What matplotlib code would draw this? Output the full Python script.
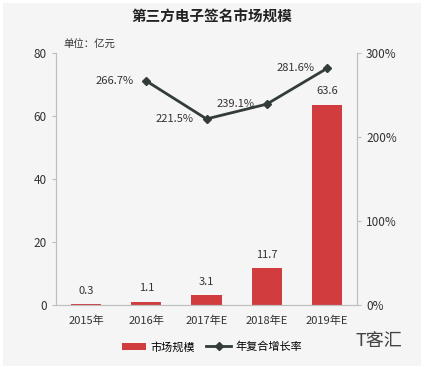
import numpy as np
import matplotlib.pyplot as plt
from matplotlib.patches import Rectangle

plt.rcParams['font.family'] = ['Noto Sans CJK SC', 'DejaVu Sans']

years = ['2015年', '2016年', '2017年E', '2018年E', '2019年E']
market = [0.3, 1.1, 3.1, 11.7, 63.6]
growth = [266.7, 221.5, 239.1, 281.6]  # 2016 - 2019E
growth_idx = [1, 2, 3, 4]

bar_color = '#d13c3e'
line_color = '#333b3b'
grid_gray = '#bfbfbf'

fig = plt.figure(figsize=(4.24, 3.69), dpi=100)
fig.patch.set_facecolor('white')
fig.patches.append(Rectangle((0.008, 0.008), 0.984, 0.984, transform=fig.transFigure,
                             facecolor='#f5f5f5', edgecolor='none', zorder=-10))

ax = fig.add_axes([56 / 424, 1 - 305 / 369, 301 / 424, 252 / 369])
ax.set_facecolor('none')
x = np.arange(len(years))
ax.bar(x, market, width=0.5, color=bar_color, label='市场规模', zorder=2)
for xi, v in zip(x, market):
    ax.annotate(f'{v}', (xi, v), xytext=(0, 6), textcoords='offset points',
                ha='center', va='bottom', fontsize=8, color='#333333')
ax.set_xlim(-0.5, 4.5)
ax.set_ylim(0, 80)
ax.set_yticks([0, 20, 40, 60, 80])
ax.set_xticks(x)
ax.set_xticklabels(years)
ax.spines['top'].set_visible(False)
for s in ['left', 'bottom', 'right']:
    ax.spines[s].set_color(grid_gray)
ax.tick_params(axis='y', colors=grid_gray, labelcolor='#333333', labelsize=8.5, length=3)
ax.tick_params(axis='x', length=0, labelsize=8, labelcolor='#333333', pad=8)

ax2 = ax.twinx()
ax2.plot(growth_idx, growth, color=line_color, lw=2, marker='D', markersize=4,
         label='年复合增长率', zorder=3)
ax2.set_ylim(0, 300)
ax2.set_yticks([0, 100, 200, 300])
ax2.set_yticklabels(['0%', '100%', '200%', '300%'])
ax2.tick_params(axis='y', colors=grid_gray, labelcolor='#333333', labelsize=8.5, length=3)
ax2.spines['top'].set_visible(False)
for s in ['left', 'bottom', 'right']:
    ax2.spines[s].set_color(grid_gray)

for xi, v in zip(growth_idx, growth):
    ax2.annotate(f'{v}%', (xi, v), xytext=(-9, 0), textcoords='offset points',
                 ha='right', va='center', fontsize=8, color='#333333')

fig.text(0.5, 1 - 17 / 369, '第三方电子签名市场规模', ha='center', va='center',
         fontsize=10.5, fontweight='bold', color='#222222')
fig.text(63 / 424, 1 - 45 / 369, '单位：亿元', ha='left', va='center',
         fontsize=7.5, color='#333333')

h1, l1 = ax.get_legend_handles_labels()
h2, l2 = ax2.get_legend_handles_labels()
fig.legend(h1 + h2, l1 + l2, loc='center', bbox_to_anchor=(212 / 424, 1 - 347 / 369),
           ncol=2, frameon=False, fontsize=8, handlelength=2.2, columnspacing=1.0,
           handletextpad=0.4)

fig.text(355 / 424, 1 - 341 / 369, 'T客汇', ha='left', va='center', fontsize=13,
         color='#444444')

fig.savefig('out.png', dpi=100)
